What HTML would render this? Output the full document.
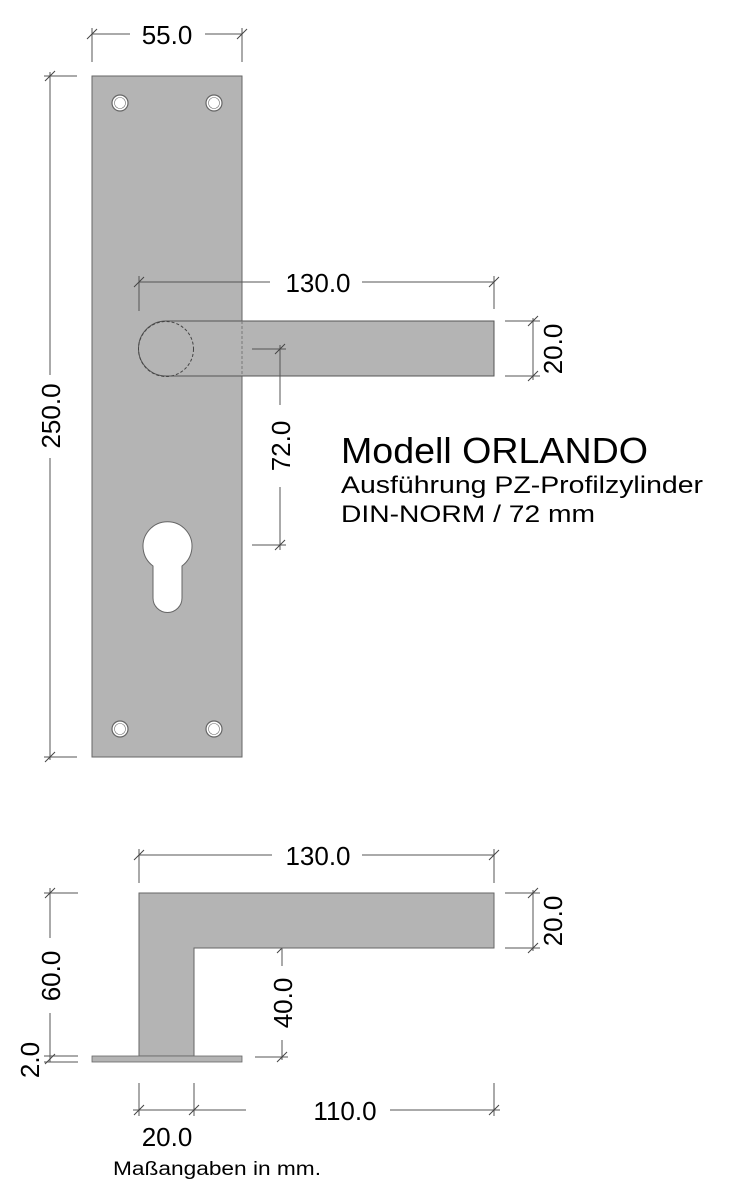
<!DOCTYPE html>
<html><head><meta charset="utf-8"><style>
html,body{margin:0;padding:0;background:#fff;}
svg{display:block;}
text{font-family:"Liberation Sans",sans-serif;fill:#000;}
</style></head><body>
<svg width="736" height="1200" viewBox="0 0 736 1200" xmlns="http://www.w3.org/2000/svg">
<defs>
<g id="tk"><line x1="-5" y1="5" x2="5" y2="-5" stroke="#444" stroke-width="1"/></g>
</defs>
<rect x="92" y="76" width="150" height="681" fill="#b4b4b4" stroke="#666" stroke-width="1"/>
<g fill="#fff" stroke="#666" stroke-width="1.2">
<circle cx="120" cy="103" r="8"/><circle cx="214" cy="103" r="8"/>
<circle cx="120" cy="729" r="8"/><circle cx="214" cy="729" r="8"/>
</g>
<g fill="#fff" stroke="#777" stroke-width="0.6">
<circle cx="120" cy="103" r="5.5"/><circle cx="214" cy="103" r="5.5"/>
<circle cx="120" cy="729" r="5.5"/><circle cx="214" cy="729" r="5.5"/>
</g>
<path d="M153,566 A24.5,24.5 0 1 1 182,566 L182,598 A14.5,14.5 0 0 1 153,598 Z" fill="#fff" stroke="#666" stroke-width="1"/>
<path d="M166,321 L494,321 L494,376 L166,376 A27.5,27.5 0 0 1 166,321 Z" fill="#b4b4b4" stroke="#555" stroke-width="1"/>
<circle cx="166" cy="349" r="27.5" fill="none" stroke="#444" stroke-width="1" stroke-dasharray="3,2"/>
<line x1="242" y1="321" x2="242" y2="376" stroke="#777" stroke-width="1" stroke-dasharray="3,2"/>
<g stroke="#555" stroke-width="1" fill="none">
<line x1="92" y1="34" x2="130" y2="34"/><line x1="205" y1="34" x2="242" y2="34"/>
<line x1="92" y1="28" x2="92" y2="62"/><line x1="242" y1="28" x2="242" y2="62"/>
<line x1="50" y1="72" x2="50" y2="375"/><line x1="50" y1="458" x2="50" y2="760"/>
<line x1="44" y1="76" x2="77" y2="76"/><line x1="44" y1="757" x2="77" y2="757"/>
<line x1="139" y1="282" x2="270" y2="282"/><line x1="362" y1="282" x2="494" y2="282"/>
<line x1="139" y1="276" x2="139" y2="311"/><line x1="494" y1="276" x2="494" y2="309"/>
<line x1="533" y1="318" x2="533" y2="380"/>
<line x1="505" y1="321" x2="540" y2="321"/><line x1="505" y1="376" x2="540" y2="376"/>
<line x1="280" y1="345" x2="280" y2="405"/><line x1="280" y1="487" x2="280" y2="550"/>
<line x1="252" y1="349" x2="286" y2="349"/><line x1="252" y1="545" x2="286" y2="545"/>
<line x1="139" y1="855" x2="272" y2="855"/><line x1="362" y1="855" x2="494" y2="855"/>
<line x1="139" y1="849" x2="139" y2="883"/><line x1="494" y1="849" x2="494" y2="883"/>
<line x1="533" y1="890" x2="533" y2="951"/>
<line x1="505" y1="893" x2="540" y2="893"/><line x1="505" y1="948" x2="540" y2="948"/>
<line x1="50" y1="888" x2="50" y2="938"/><line x1="50" y1="1013" x2="50" y2="1062"/>
<line x1="44" y1="893" x2="78" y2="893"/><line x1="44" y1="1056" x2="78" y2="1056"/><line x1="44" y1="1062" x2="78" y2="1062"/>
<line x1="282" y1="944" x2="282" y2="966"/><line x1="282" y1="1040" x2="282" y2="1060"/>
<line x1="255" y1="1057" x2="288" y2="1057"/>
<line x1="133" y1="1110" x2="246" y2="1110"/><line x1="390" y1="1110" x2="500" y2="1110"/>
<line x1="139" y1="1083" x2="139" y2="1116"/><line x1="194" y1="1083" x2="194" y2="1116"/><line x1="494" y1="1083" x2="494" y2="1116"/>
</g>
<g>
<use href="#tk" x="92" y="34"/><use href="#tk" x="242" y="34"/>
<use href="#tk" x="50" y="76"/><use href="#tk" x="50" y="757"/>
<use href="#tk" x="139" y="282"/><use href="#tk" x="494" y="282"/>
<use href="#tk" x="533" y="321"/><use href="#tk" x="533" y="376"/>
<use href="#tk" x="280" y="349"/><use href="#tk" x="280" y="545"/>
<use href="#tk" x="139" y="855"/><use href="#tk" x="494" y="855"/>
<use href="#tk" x="533" y="893"/><use href="#tk" x="533" y="948"/>
<use href="#tk" x="50" y="893"/><use href="#tk" x="50" y="1059"/>
<use href="#tk" x="282" y="948"/><use href="#tk" x="282" y="1057"/>
<use href="#tk" x="139" y="1110"/><use href="#tk" x="194" y="1110"/><use href="#tk" x="494" y="1110"/>
</g>
<path d="M139,893 L494,893 L494,948 L194,948 L194,1056 L139,1056 Z" fill="#b4b4b4" stroke="#666" stroke-width="1"/>
<rect x="92" y="1056" width="150" height="6" fill="#b4b4b4" stroke="#666" stroke-width="0.8"/>
<g font-size="26">
<text x="167" y="44" text-anchor="middle">55.0</text>
<text x="318" y="292" text-anchor="middle">130.0</text>
<text x="318" y="865" text-anchor="middle">130.0</text>
<text x="345" y="1120" text-anchor="middle">110.0</text>
<text x="167" y="1146" text-anchor="middle">20.0</text>
<text transform="translate(60,416) rotate(-90)" text-anchor="middle">250.0</text>
<text transform="translate(562,349) rotate(-90)" text-anchor="middle">20.0</text>
<text transform="translate(290,446) rotate(-90)" text-anchor="middle">72.0</text>
<text transform="translate(562,921) rotate(-90)" text-anchor="middle">20.0</text>
<text transform="translate(60,976) rotate(-90)" text-anchor="middle">60.0</text>
<text transform="translate(292,1003) rotate(-90)" text-anchor="middle">40.0</text>
<text transform="translate(39,1060) rotate(-90)" text-anchor="middle">2.0</text>
</g>
<text x="341" y="463" font-size="36" textLength="307" lengthAdjust="spacingAndGlyphs">Modell ORLANDO</text>
<text x="341" y="493" font-size="24" textLength="362" lengthAdjust="spacingAndGlyphs">Ausführung PZ-Profilzylinder</text>
<text x="341" y="522" font-size="24" textLength="254" lengthAdjust="spacingAndGlyphs">DIN-NORM / 72 mm</text>
<text x="113" y="1175" font-size="19" textLength="208" lengthAdjust="spacingAndGlyphs">Maßangaben in mm.</text>
</svg>
</body></html>
